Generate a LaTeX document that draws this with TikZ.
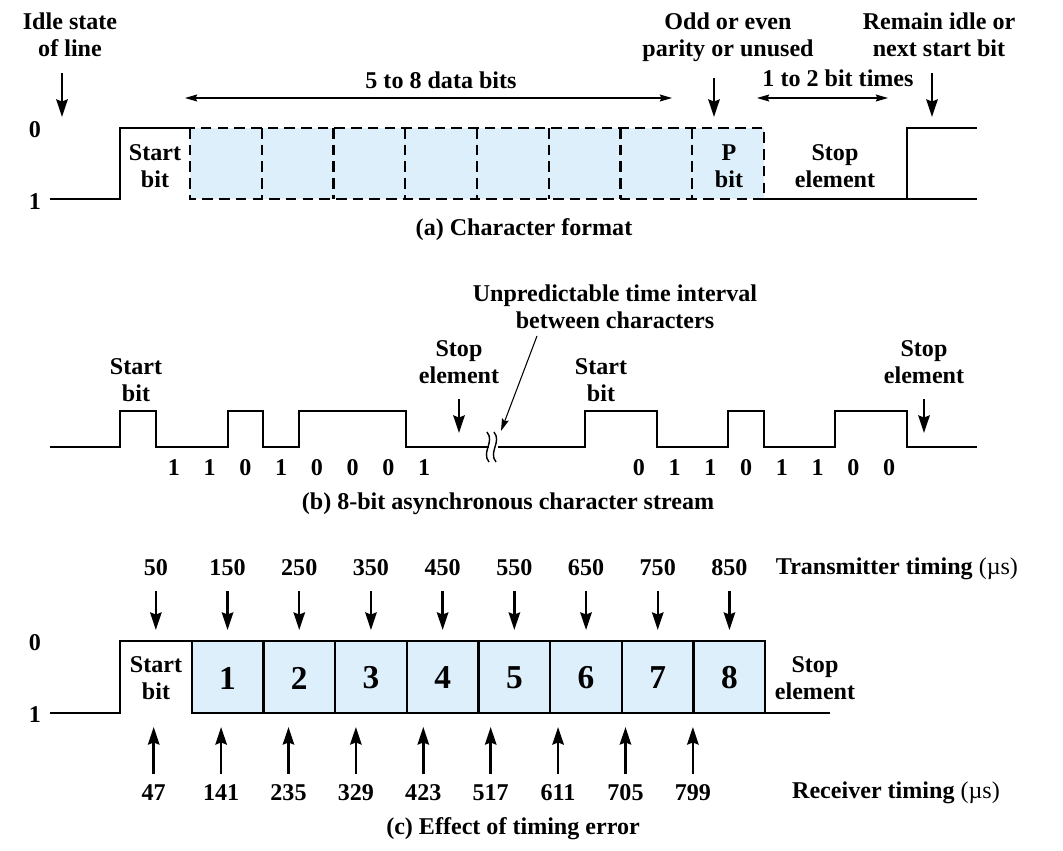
\documentclass[tikz,border=0pt]{standalone}
\usepackage{fontspec}
\setmainfont{Liberation Serif}
\usetikzlibrary{arrows.meta}
\definecolor{bitblue}{RGB}{221,239,251}
\tikzset{
  >={Stealth[length=10pt,width=6.5pt,inset=1.2pt]},
  lbl/.style={font=\bfseries\fontsize{13.7}{15.4}\selectfont, align=center, inner sep=0pt},
  big/.style={font=\bfseries\fontsize{19}{22}\selectfont, inner sep=0pt},
  wave/.style={line width=1.7pt},
  ptr/.style={->, line width=1.4pt},
  dimline/.style={<->, line width=0.6pt, >={Stealth[length=7pt,width=4pt,inset=1pt]}},
  dashbox/.style={line width=1.3pt, dash pattern=on 6pt off 3.5pt},
  bitbox/.style={fill=bitblue, line width=1.3pt},
}
\begin{document}
\begin{tikzpicture}[x=0.02cm, y=-0.02cm]
  \useasboundingbox (0,0) rectangle (1063,851);

  % (a) character format
  \fill[bitblue] (190,128) rectangle (764,199);
  \draw[dashbox] (190,128) rectangle (764,199);
  \foreach \k in {1,...,7}
    \draw[dashbox] (190+\k*71.75,128) -- (190+\k*71.75,199);
  \draw[wave] (50,199) -- (120,199) -- (120,128) -- (190,128);
  \draw[wave] (764,199) -- (977,199) (907,199) -- (907,128) -- (977,128);
  \node[lbl] (zeroA) at (35,130) {0};
  \node[lbl] (oneA) at (35,202) {1};
  \node[lbl] (startA) at (155,166) {Start\\bit};
  \node[lbl] (pbit) at (729,166) {P\\bit};
  \node[lbl] (stopA) at (835,166) {Stop\\element};
  \node[lbl] (idle) at (70,35) {Idle state\\of line};
  \node[lbl] (parity) at (728,37) {Odd or even\\parity or unused};
  \node[lbl] (remain) at (939,35) {Remain idle or\\next start bit};
  \node[lbl] (databits) at (441,80) {5 to 8 data bits};
  \node[lbl] (bittimes) at (838,78) {1 to 2 bit times};
  \node[lbl] (capA) at (524,230) {(a) Character format};
  \coordinate (idleTip) at (62,117);
  \coordinate (parityTip) at (714,117);
  \coordinate (remainTip) at (932,117);
  \draw[ptr, shorten <=0.32cm] (idle.south -| idleTip) -- (idleTip);
  \draw[ptr, shorten <=0.32cm] (parity.south -| parityTip) -- (parityTip);
  \draw[ptr, shorten <=0.32cm] (remain.south -| remainTip) -- (remainTip);
  \coordinate (dataL) at (185,98);
  \coordinate (dataR) at (672,98);
  \coordinate (stopL) at (757,98);
  \coordinate (stopR) at (888,98);
  \draw[dimline] (dataL) -- (dataR);
  \draw[dimline] (stopL) -- (stopR);

  % (b) character stream
  \draw[wave] (50,447) -- (120,447) -- (120,411) -- (156,411) -- (156,447) -- (228,447) -- (228,411)
    -- (263,411) -- (263,447) -- (299,447) -- (299,411) -- (406,411) -- (406,447) -- (489,447);
  \draw[wave] (498,447) -- (585,447) -- (585,411) -- (657,411) -- (657,447) -- (728,447) -- (728,411)
    -- (764,411) -- (764,447) -- (835,447) -- (835,411) -- (907,411) -- (907,447) -- (977,447);
  \draw[line width=0.8pt] (487,432) .. controls (495,442) and (481,452) .. (489,462);
  \draw[line width=0.8pt] (494,432) .. controls (502,442) and (488,452) .. (496,462);
  \foreach \b [count=\i] in {1,1,0,1,0,0,0,1}
    \node[lbl] (bitA\i) at (156+\i*35.75-17.9,468) {\b};
  \foreach \b [count=\i] in {0,1,1,0,1,1,0,0}
    \node[lbl] (bitB\i) at (621+\i*35.75-17.9,468) {\b};
  \node[lbl] (startB) at (136,380) {Start\\bit};
  \node[lbl] (startC) at (601,380) {Start\\bit};
  \node[lbl] (stopB) at (459,362) {Stop\\element};
  \node[lbl] (stopC) at (924,362) {Stop\\element};
  \node[lbl] (unpred) at (615,307) {Unpredictable time interval\\between characters};
  \node[lbl] (capB) at (508,504) {(b) 8-bit asynchronous character stream};
  \coordinate (stopTipB) at (459,433);
  \coordinate (stopTipC) at (924,433);
  \draw[ptr, shorten <=0.3cm] (stopB.south -| stopTipB) -- (stopTipB);
  \draw[ptr, shorten <=0.3cm] (stopC.south -| stopTipC) -- (stopTipC);
  \coordinate (gapTail) at (537,336);
  \coordinate (gapTip) at (501,431);
  \draw[->, line width=0.6pt, >={Stealth[length=7pt,width=4pt,inset=1pt]}] (gapTail) -- (gapTip);

  % (c) timing error
  \draw[wave] (50,713) -- (120,713) -- (120,641) -- (191.7,641);
  \foreach \k in {1,...,8} {
    \filldraw[bitbox] (120+\k*71.7,641) rectangle (191.7+\k*71.7,713);
    \node[big] (box\k) at (155.85+\k*71.7,678) {\k};
  }
  \draw[wave] (765.3,713) -- (830,713);
  \node[lbl] (zeroC) at (35,643) {0};
  \node[lbl] (oneC) at (35,715) {1};
  \node[lbl] (startD) at (156,678) {Start\\bit};
  \node[lbl] (stopD) at (815,678) {Stop\\element};
  \foreach \tm [count=\i from 0] in {50,150,...,850} {
    \node[lbl] (tx\i) at (155.85+\i*71.7,568) {\tm};
    \coordinate (txTip\i) at (155.85+\i*71.7,630);
    \draw[ptr, shorten <=0.3cm] (tx\i) -- (txTip\i);
  }
  \foreach \tm [count=\i from 0] in {47,141,...,799} {
    \node[lbl] (rx\i) at (155.85+\tm*0.717-35.85,793) {\tm};
    \coordinate (rxTip\i) at (155.85+\tm*0.717-35.85,727);
    \draw[ptr, shorten <=0.22cm] (rx\i) -- (rxTip\i);
  }
  \node[lbl] (txLabel) at (897,569) {Transmitter timing {\mdseries(µs)}};
  \node[lbl] (rxLabel) at (896,793) {Receiver timing {\mdseries(µs)}};
  \node[lbl] (capC) at (513,829) {(c) Effect of timing error};
\end{tikzpicture}
\end{document}
